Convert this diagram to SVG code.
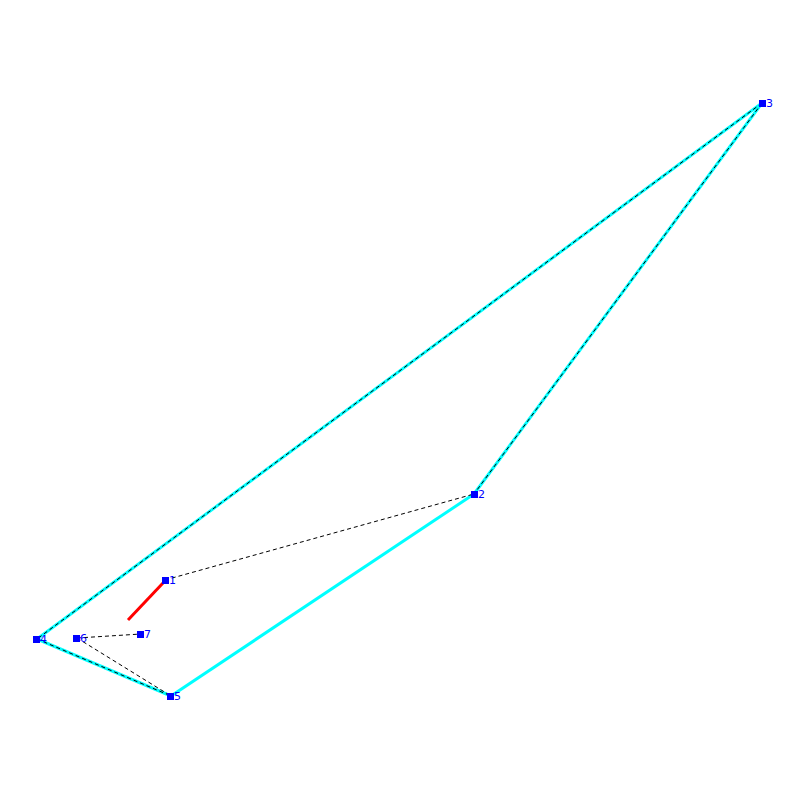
<svg xmlns="http://www.w3.org/2000/svg" width="800" height="800" viewBox="0 0 800 800">
<style>
.c{stroke:#00ffff;stroke-width:3;fill:none}
.d{stroke:#000;stroke-width:1;stroke-dasharray:4,3;fill:none}
.r{stroke:#ff0000;stroke-width:3;fill:none}
.n{fill:#0000ff}
.t{fill:#0000ff;font-family:"DejaVu Sans",sans-serif;font-size:11px}
</style>
<rect width="800" height="800" fill="#fff"/>
<g id="connectors">
<line class="c" x1="762" y1="103" x2="37" y2="639"/>
<line class="c" x1="762" y1="103" x2="474" y2="494"/>
<line class="c" x1="474" y1="494" x2="171" y2="696"/>
<line class="c" x1="37" y1="639" x2="171" y2="696"/>
<line class="d" x1="762" y1="103" x2="37" y2="639"/>
<line class="d" x1="762" y1="103" x2="474" y2="494"/>
<line class="d" x1="37" y1="639" x2="171" y2="696"/>
<line class="d" x1="165" y1="580" x2="474" y2="494"/>
<line class="d" x1="77" y1="638" x2="141" y2="634"/>
<line class="d" x1="77" y1="638" x2="171" y2="696"/>
<line class="r" x1="163" y1="583" x2="128" y2="620"/>
</g>
<g id="n1"><rect class="n" x="162" y="577" width="7" height="7"/><text class="t" x="169" y="584">1</text></g>
<g id="n2"><rect class="n" x="471" y="491" width="7" height="7"/><text class="t" x="478" y="498">2</text></g>
<g id="n3"><rect class="n" x="759" y="100" width="7" height="7"/><text class="t" x="766" y="107">3</text></g>
<g id="n4"><rect class="n" x="33" y="636" width="7" height="7"/><text class="t" x="40" y="643">4</text></g>
<g id="n5"><rect class="n" x="167" y="693" width="7" height="7"/><text class="t" x="174" y="700">5</text></g>
<g id="n6"><rect class="n" x="73" y="635" width="7" height="7"/><text class="t" x="80" y="642">6</text></g>
<g id="n7"><rect class="n" x="137" y="631" width="7" height="7"/><text class="t" x="144" y="638">7</text></g>
</svg>
